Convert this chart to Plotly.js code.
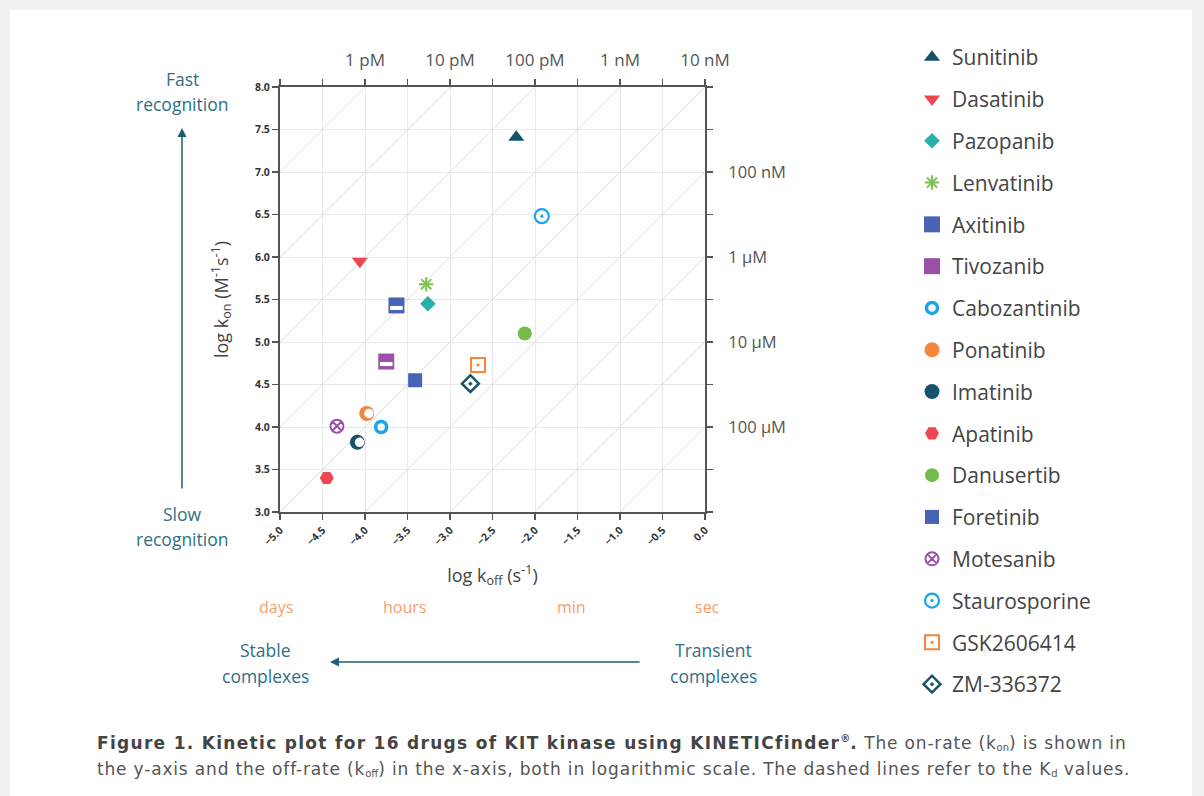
<!DOCTYPE html>
<html><head><meta charset="utf-8">
<script src="https://cdn.plot.ly/plotly-3.0.1.min.js"></script>
<style>
html,body{margin:0;padding:0;background:#f1f1f1;overflow:hidden;}
#card{position:absolute;left:10px;top:10px;width:1182px;height:800px;background:#fff;}
#chart{position:absolute;left:0;top:0;width:1204px;height:796px;}
#caption{position:absolute;left:97px;top:730px;width:1100px;font-family:'DejaVu Sans',Verdana,sans-serif;
  font-size:17px;letter-spacing:0.83px;line-height:26px;color:#555;white-space:nowrap;}
#caption b{color:#444;letter-spacing:1.3px;}
#caption sub{font-size:10px;vertical-align:-2px;line-height:0;letter-spacing:0;}
#caption sup{font-size:10px;line-height:0;letter-spacing:0;}
</style></head><body>
<div id="card"></div><div id="chart"></div>
<div id="caption"><b>Figure 1. Kinetic plot for 16 drugs of KIT kinase using KINETICfinder<sup>®</sup>.</b> The on-rate (k<sub>on</sub>) is shown in<br>the y-axis and the off-rate (k<sub>off</sub>) in the x-axis, both in logarithmic scale. The dashed lines refer to the K<sub>d</sub> values.</div>
<script>
// ---- data ----
const drugs = ['Sunitinib','Dasatinib','Pazopanib','Lenvatinib','Axitinib','Tivozanib','Cabozantinib','Ponatinib','Imatinib','Apatinib','Danusertib','Foretinib','Motesanib','Staurosporine','GSK2606414','ZM-336372'];
const logKoff = [-2.22,-4.06,-3.26,-3.28,-3.63,-3.75,-3.81,-3.98,-4.09,-4.45,-2.12,-3.41,-4.33,-1.92,-2.67,-2.76];
const logKon  = [7.41,5.95,5.45,5.68,5.43,4.77,4.00,4.16,3.82,3.40,5.10,4.55,4.01,6.48,4.73,4.51];
const kdLog = [-12,-11,-10,-9,-8,-7,-6,-5,-4];
const topTickVals = [-4,-3,-2,-1,0];
const topTickText = ['1 pM','10 pM','100 pM','1 nM','10 nM'];
const rightTickVals = [7,6,5,4];
const rightTickText = ['100 nM','1 μM','10 μM','100 μM'];

// ---- styles ----
const st = {
 'Sunitinib':    {symbol:'triangle-up', color:'#15536a', size:14},
 'Dasatinib':    {symbol:'triangle-down', color:'#f0464f', size:14},
 'Pazopanib':    {symbol:'diamond', color:'#27b0a9', size:12},
 'Lenvatinib':   {symbol:'asterisk-open', color:'#7dc453', size:12, lw:2},
 'Axitinib':     {symbol:'square', color:'#4a64b4', size:16, bar:true},
 'Tivozanib':    {symbol:'square', color:'#9a52a8', size:16, bar:true},
 'Cabozantinib': {symbol:'circle-open', color:'#1aa5ea', size:11, lw:3.5},
 'Ponatinib':    {symbol:'circle', color:'#f5843c', size:15, half:true},
 'Imatinib':     {symbol:'circle', color:'#15536a', size:15, half:true},
 'Apatinib':     {symbol:'hexagon2', color:'#f0464f', size:14},
 'Danusertib':   {symbol:'circle', color:'#72bd4c', size:14},
 'Foretinib':    {symbol:'square', color:'#4663b6', size:14},
 'Motesanib':    {symbol:'circle-x-open', color:'#9a52a8', size:13, lw:2},
 'Staurosporine':{symbol:'circle-open-dot', color:'#1aa5ea', size:14, lw:2.2},
 'GSK2606414':   {symbol:'square-open-dot', color:'#f5843c', size:14, lw:2},
 'ZM-336372':    {symbol:'diamond-open-dot', color:'#15536a', size:13, lw:2.5}
};

const traces = [];
// Kd iso-lines on the main subplot (below markers)
kdLog.forEach(k => {
  traces.push({x:[3+k, 8+k], y:[3,8], mode:'lines', line:{color:'#dedede', width:1},
    showlegend:false, hoverinfo:'skip'});
});
// drug markers on the Kd-labelled overlay axes
drugs.forEach((d,i) => {
  const s = st[d];
  const marker = {symbol:s.symbol, color:s.color, size:s.size};
  if (s.lw) marker.line = {color:s.color, width:s.lw};
  traces.push({x:[logKoff[i]], y:[logKon[i]], xaxis:'x2', yaxis:'y2', mode:'markers', name:d, legendgroup:d,
    marker:marker, cliponaxis:false});
});
// white inner details (half-filled circles, window squares) on slightly shifted overlay axes
drugs.forEach((d,i) => {
  const s = st[d];
  if (s.half) {
    traces.push({x:[logKoff[i]], y:[logKon[i]], xaxis:'x3', yaxis:'y2', mode:'markers', legendgroup:d, showlegend:false,
      marker:{symbol:'circle', color:'#ffffff', size:s.size-5.5}, hoverinfo:'skip', cliponaxis:false});
  }
  if (s.bar) {
    traces.push({x:[logKoff[i]], y:[logKon[i]], xaxis:'x2', yaxis:'y3', mode:'markers', legendgroup:d, showlegend:false,
      marker:{symbol:'line-ew-open', color:'#ffffff', size:9, line:{color:'#ffffff', width:4}},
      hoverinfo:'skip', cliponaxis:false});
  }
});

// ---- layout helpers (pixel -> paper) ----
const L=280, R=705, T=87, B=512;
const px = v => (v-L)/(R-L);
const py = v => (B-v)/(B-T);
const unit = (R-L)/5;           // pixels per log unit
const dx = 2.2/unit, dy = 2.5/unit;
const teal = '#2f6f84', orange = '#f6a06c';
const fnt = 'Open Sans, Noto Sans, sans-serif';
function ann(text, x, y, size, color) {
  return {text:text, x:px(x), y:py(y), xref:'paper', yref:'paper', showarrow:false,
    xanchor:'center', yanchor:'middle', font:{family:fnt, size:size, color:color}};
}
const annotations = [
  ann('Fast',182,79,17.5,teal), ann('recognition',182,104,17.5,teal),
  ann('Slow',182,514,17.5,teal), ann('recognition',182,539,17.5,teal),
  ann('days',276,607,16,orange), ann('hours',404,607,16,orange),
  ann('min',571,607,16,orange), ann('sec',707,607,16,orange),
  ann('Stable',265,650,17.5,teal), ann('complexes',265,676,17.5,teal),
  ann('Transient',713,650,17.5,teal), ann('complexes',713,676,17.5,teal),
  {x:px(182), y:py(128), xref:'paper', yref:'paper', text:'', showarrow:true, ax:0, ay:362,
    arrowhead:2, arrowsize:1.2, arrowwidth:1.5, arrowcolor:'#1f5f73'},
  {x:px(330), y:py(662), xref:'paper', yref:'paper', text:'', showarrow:true, ax:311, ay:0,
    arrowhead:2, arrowsize:1.2, arrowwidth:1.5, arrowcolor:'#1f5f73'}
];

const tickFont = {family:fnt, size:10.5, color:'#333', weight:700};
const layout = {
  width:1204, height:796,
  margin:{l:L, r:1204-R, t:T, b:796-B, pad:0},
  paper_bgcolor:'rgba(0,0,0,0)', plot_bgcolor:'#ffffff',
  showlegend:true,
  legend:{x:px(912), y:py(37), xanchor:'left', yanchor:'top', tracegroupgap:11.5, maxheight:780,
    font:{family:fnt, size:21, color:'#444'}, bgcolor:'rgba(0,0,0,0)'},
  xaxis:{range:[-5,0], tick0:-5, dtick:0.5, tickformat:'.1f', tickangle:-45, ticks:'outside',
    ticklen:6, tickwidth:1.5, tickcolor:'#555', showline:true, linecolor:'#555', linewidth:2,
    mirror:'ticks', showgrid:true, gridcolor:'#e9e9e9', zeroline:false, tickfont:tickFont,
    title:{text:'log k<sub>off</sub> (s<sup>-1</sup>)', font:{family:fnt, size:18, color:'#444'}, standoff:22},
    automargin:false, fixedrange:true},
  yaxis:{range:[3,8], tick0:3, dtick:0.5, tickformat:'.1f', ticks:'outside',
    ticklen:6, tickwidth:1.5, tickcolor:'#555', showline:true, linecolor:'#555', linewidth:2,
    mirror:'ticks', showgrid:true, gridcolor:'#e9e9e9', zeroline:false, tickfont:tickFont,
    title:{text:'log k<sub>on</sub> (M<sup>-1</sup>s<sup>-1</sup>)', font:{family:fnt, size:18, color:'#444'}, standoff:22},
    automargin:false, fixedrange:true},
  xaxis2:{overlaying:'x', anchor:'y2', side:'top', range:[-5,0], tickvals:topTickVals, ticktext:topTickText,
    ticks:'outside', ticklen:13, tickcolor:'rgba(0,0,0,0)', showgrid:false, showline:false, zeroline:false,
    tickfont:{family:fnt, size:17, color:'#555'}, automargin:false, fixedrange:true},
  yaxis2:{overlaying:'y', anchor:'x2', side:'right', range:[3,8], tickvals:rightTickVals, ticktext:rightTickText,
    ticks:'outside', ticklen:19, tickcolor:'rgba(0,0,0,0)', showgrid:false, showline:false, zeroline:false,
    tickfont:{family:fnt, size:16.5, color:'#555'}, automargin:false, fixedrange:true},
  xaxis3:{overlaying:'x', anchor:'y2', range:[-5-dx, 0-dx], visible:false, fixedrange:true},
  yaxis3:{overlaying:'y', anchor:'x2', range:[3+dy, 8+dy], visible:false, fixedrange:true},
  annotations:annotations
};
Plotly.newPlot('chart', traces, layout, {displayModeBar:false, staticPlot:true});
</script>
</body></html>
